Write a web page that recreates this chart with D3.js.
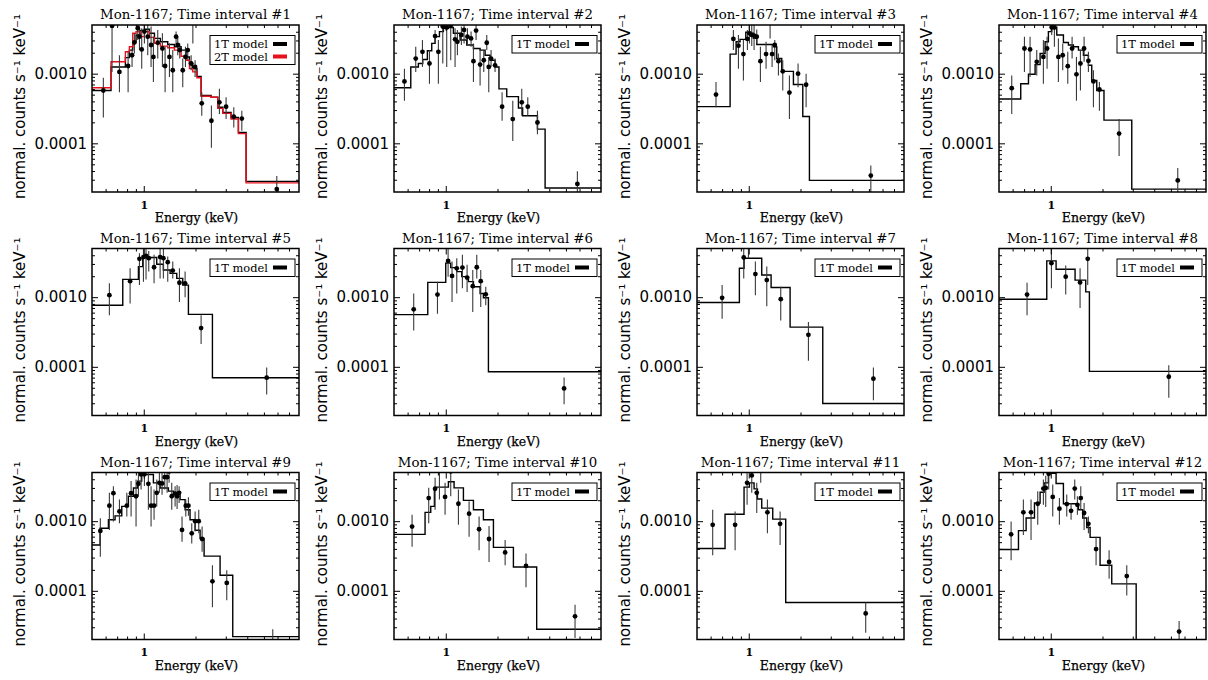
<!DOCTYPE html>
<html><head><meta charset="utf-8">
<script src="https://cdn.jsdelivr.net/npm/d3@7"></script>
<style>body{margin:0;background:#fff}</style>
</head><body><svg id="c" width="1208" height="680"></svg>
<script>
// ---------------- DATA ----------------
const sourceName = "Mon-1167";
const intervalNumbers = [1,2,3,4,5,6,7,8,9,10,11,12];
const xTickValues = [1];
const xTickLabels = ["1"];
const yTickValues = [1e-3, 1e-4];
const yTickLabels = ["0.0010", "0.0001"];
const xMinorTicks = [0.6,0.7,0.8,0.9,2,3,4,5,6,7];
const yMinorTicks = [3e-5,4e-5,5e-5,6e-5,7e-5,8e-5,9e-5,2e-4,3e-4,4e-4,5e-4,6e-4,7e-4,8e-4,9e-4,2e-3,3e-3,4e-3];
const xDomain = [0.5, 8];
const yDomain = [2e-5, 5e-3];
const legendLabels = ["1T model", "2T model"];

// Panel 1
const p1E  = [0.582,0.654,0.722,0.811,0.855,0.882,0.923,0.944,0.973,1.009,1.055,1.103,1.138,1.206,1.284,1.331,1.411,1.475,1.542,1.577,1.620,1.686,1.748,1.803,1.886,1.93,1.989,2.175,2.475,2.755,3.013,3.34,3.72,5.94];
const p1F  = [5.73e-4,4.85e-3,1.06e-3,1.29e-3,1.84e-3,2.81e-3,4.49e-3,3.40e-3,2.23e-3,4.02e-3,3.40e-3,2.58e-3,1.74e-3,2.78e-3,2.30e-3,1.29e-3,1.74e-3,1.12e-3,3.40e-3,2.58e-3,2.18e-3,1.12e-3,1.74e-3,2.18e-3,1.40e-3,5.6e-3,1.25e-3,3.75e-4,2.11e-4,3.88e-4,3.36e-4,2.41e-4,2.27e-4,2.2e-5];
const p1Lo = [2.35e-4,1.06e-3,5.42e-4,5.42e-4,1.25e-3,1.95e-3,3.04e-3,2.18e-3,1.18e-3,2.72e-3,1.84e-3,1.25e-3,7.57e-4,1.65e-3,1.25e-3,5.42e-4,8.94e-4,5.42e-4,2.43e-3,1.84e-3,1.65e-3,6.41e-4,1.25e-3,1.56e-3,1.12e-3,2.72e-3,8.94e-4,2.49e-4,8.65e-5,2.63e-4,2.23e-4,1.69e-4,1.51e-4,1.5e-5];
const p1Hi = [8.75e-4,9e-3,1.84e-3,2.06e-3,2.30e-3,3.80e-3,6e-3,4.75e-3,4.49e-3,6e-3,6e-3,4.75e-3,3.40e-3,4.25e-3,3.80e-3,2.43e-3,2.72e-3,2.18e-3,4.02e-3,3.40e-3,2.72e-3,1.65e-3,2.43e-3,2.72e-3,1.84e-3,9e-3,1.56e-3,5.42e-4,3.48e-4,6.06e-4,4.59e-4,3.29e-4,2.94e-4,3.4e-5];
const p1Edges = [0.5,0.645,0.782,0.825,0.863,0.902,0.956,1.009,1.079,1.154,1.250,1.379,1.508,1.649,1.763,1.844,1.928,2.04,2.156,2.465,2.695,2.882,3.22,3.553,3.94,8];
const p1Model = [5.73e-4,1.25e-3,1.70e-3,2.18e-3,2.87e-3,3.60e-3,4.16e-3,4.35e-3,3.80e-3,3.21e-3,2.87e-3,2.63e-3,2.43e-3,2.18e-3,1.74e-3,1.40e-3,1.18e-3,9.15e-4,4.86e-4,4.59e-4,3.29e-4,2.78e-4,2.35e-4,1.43e-4,2.84e-5];
const p1Model2T = [6.27e-4,1.48e-3,2.06e-3,2.43e-3,3.80e-3,4.02e-3,3.40e-3,4.02e-3,3.32e-3,2.72e-3,2.49e-3,2.36e-3,2.18e-3,1.78e-3,1.56e-3,1.18e-3,1.06e-3,8.75e-4,4.74e-4,4.59e-4,3.18e-4,2.69e-4,2.23e-4,1.38e-4,2.70e-5];

// Panel 2
const p2E  = [0.575,0.669,0.732,0.804,0.867,0.906,0.961,1.013,1.069,1.133,1.169,1.233,1.278,1.337,1.404,1.449,1.501,1.584,1.664,1.732,1.779,1.835,1.936,2.127,2.454,2.768,3.0,3.415,5.83];
const p2F  = [7.74e-4,1.65e-3,2.06e-3,1.40e-3,3.47e-3,2.06e-3,4.75e-3,4.6e-3,4.9e-3,3.11e-3,2.87e-3,3.60e-3,4.25e-3,3.40e-3,3.21e-3,1.51e-3,4.16e-3,1.35e-3,1.56e-3,2.78e-3,1.25e-3,1.65e-3,1.32e-3,3.36e-4,2.23e-4,3.88e-4,3.36e-4,1.99e-4,2.61e-5];
const p2Lo = [4.10e-4,1.06e-3,1.25e-3,7.16e-4,2.72e-3,7.16e-4,1.40e-3,1.25e-3,1.56e-3,1.25e-3,1.84e-3,2.58e-3,2.72e-3,2.58e-3,2.43e-3,7.57e-4,3.04e-3,6.77e-4,1.06e-3,2.18e-3,5.42e-4,1.25e-3,1.06e-3,2.11e-4,1.08e-4,2.49e-4,2.49e-4,1.35e-4,1.83e-5];
const p2Hi = [1.18e-3,2.43e-3,3.04e-3,2.18e-3,4.25e-3,3.04e-3,7e-3,7e-3,7e-3,4.49e-3,4.25e-3,4.75e-3,6e-3,4.49e-3,4.02e-3,2.72e-3,6e-3,2.18e-3,2.18e-3,3.60e-3,1.74e-3,2.18e-3,1.65e-3,5.42e-4,4.10e-4,6.06e-4,4.59e-4,2.94e-4,3.97e-5];
const p2Edges = [0.5,0.626,0.693,0.735,0.782,0.829,0.867,0.919,0.969,1.036,1.108,1.212,1.325,1.449,1.584,1.694,1.811,1.936,2.04,2.264,2.647,2.80,3.415,3.784,8];
const p2Model = [6.27e-4,1.25e-3,1.40e-3,1.60e-3,2.13e-3,2.72e-3,3.40e-3,4.02e-3,4.49e-3,4.6e-3,3.80e-3,3.04e-3,2.58e-3,2.30e-3,2.18e-3,1.84e-3,1.56e-3,1.25e-3,6.06e-4,4.69e-4,3.22e-4,2.49e-4,1.60e-4,2.28e-5];

// Panel 3
const p3E  = [0.645,0.814,0.871,0.931,0.982,1.009,1.041,1.074,1.113,1.169,1.261,1.331,1.367,1.417,1.488,1.577,1.724,1.936,2.156,5.13];
const p3F  = [5.01e-4,3.15e-3,2.52e-3,1.91e-3,3.15e-3,3.80e-3,3.6e-3,3.53e-3,3.40e-3,1.51e-3,1.91e-3,5.6e-3,1.91e-3,2.58e-3,1.51e-3,1.08e-3,5.36e-4,1.0e-3,6.93e-4,3.44e-5];
const p3Lo = [3.29e-4,2.18e-3,1.18e-3,8.0e-4,2.18e-3,2.72e-3,2.5e-3,2.18e-3,2.72e-3,7.57e-4,1.18e-3,3.21e-3,1.25e-3,1.56e-3,9.45e-4,5.73e-4,2.23e-4,6.41e-4,3.29e-4,1.8e-5];
const p3Hi = [7.57e-4,4.25e-3,3.60e-3,3.04e-3,4.25e-3,5.2e-3,5.2e-3,5.2e-3,4.3e-3,2.43e-3,2.87e-3,8e-3,2.58e-3,3.04e-3,1.95e-3,1.56e-3,9.45e-4,1.40e-3,1.0e-3,4.81e-5];
const p3Edges = [0.5,0.779,0.844,0.890,0.961,1.018,1.064,1.113,1.391,1.455,1.556,1.819,2.062,2.254,8];
const p3Model = [3.36e-4,1.91e-3,2.87e-3,3.11e-3,3.93e-3,3.80e-3,3.21e-3,2.63e-3,2.43e-3,1.65e-3,1.08e-3,7.0e-4,2.43e-4,2.94e-5];

// Panel 4
const p4E  = [0.593,0.703,0.758,0.829,0.906,0.952,1.013,1.05,1.108,1.174,1.256,1.331,1.411,1.488,1.563,1.656,1.771,1.919,2.498,5.48];
const p4F  = [6.20e-4,2.30e-3,2.23e-3,1.48e-3,1.74e-3,2.30e-3,4.64e-3,4.6e-3,1.74e-3,1.84e-3,1.28e-3,2.30e-3,9.8e-4,1.40e-3,2.30e-3,1.53e-3,7.74e-4,5.93e-4,1.38e-4,2.93e-5];
const p4Lo = [2.63e-4,1.06e-3,8.94e-4,9.45e-4,7.16e-4,1.18e-3,3.60e-3,2.43e-3,7.57e-4,1.12e-3,7.16e-4,1.65e-3,4.10e-4,5.73e-4,1.48e-3,1.06e-3,3.29e-4,2.94e-4,6.56e-5,1.9e-5];
const p4Hi = [9.45e-4,3.40e-3,3.40e-3,2.18e-3,3.04e-3,3.40e-3,6e-3,6e-3,3.21e-3,2.72e-3,2.06e-3,3.40e-3,1.74e-3,2.18e-3,3.40e-3,2.06e-3,1.12e-3,7.57e-4,2.23e-4,4.44e-5];
const p4Edges = [0.5,0.669,0.742,0.811,0.867,0.927,0.969,1.013,1.084,1.185,1.267,1.355,1.449,1.549,1.656,1.732,1.852,2.04,2.96,8];
const p4Model = [4.34e-4,7.16e-4,9.8e-4,1.35e-3,1.95e-3,2.87e-3,4.02e-3,4.64e-3,3.60e-3,2.81e-3,2.58e-3,2.43e-3,2.18e-3,1.84e-3,1.32e-3,8.0e-4,5.73e-4,2.15e-4,2.2e-5];

// Panel 5
const p5E  = [0.631,0.833,0.944,0.996,1.031,1.069,1.148,1.245,1.301,1.379,1.475,1.613,1.740,2.156,5.19];
const p5F  = [1.07e-3,1.70e-3,3.55e-3,3.76e-3,3.9e-3,3.63e-3,2.69e-3,3.76e-3,3.63e-3,3.18e-3,2.41e-3,1.61e-3,1.58e-3,3.60e-4,6.98e-5];
const p5Lo = [5.48e-4,8.1e-4,1.49e-3,1.67e-3,1.8e-3,2.33e-3,1.58e-3,1.86e-3,1.86e-3,1.67e-3,1.86e-3,8.56e-4,1.0e-3,2.13e-4,4.0e-5];
const p5Hi = [1.58e-3,2.60e-3,4.29e-3,5.5e-3,5.5e-3,4.6e-3,4.06e-3,5e-3,5e-3,3.84e-3,3.25e-3,2.60e-3,2.33e-3,5.48e-4,9.8e-5];
const p5Edges = [0.5,0.755,0.931,0.987,1.190,1.301,1.423,1.556,1.686,1.819,2.509,8];
const p5Model = [7.66e-4,1.80e-3,2.75e-3,3.72e-3,2.97e-3,2.46e-3,2.20e-3,1.86e-3,1.49e-3,5.67e-4,6.98e-5];

// Panel 6
const p6E  = [0.651,0.895,1.032,1.088,1.159,1.250,1.331,1.436,1.515,1.598,1.709,4.88];
const p6F  = [6.7e-4,1.09e-3,3.32e-3,2.02e-3,2.60e-3,2.66e-3,1.91e-3,1.44e-3,2.69e-3,1.70e-3,1.10e-3,4.9e-5];
const p6Lo = [3.33e-4,5.8e-4,1.97e-3,8.56e-4,1.13e-3,1.34e-3,1.19e-3,6.13e-4,1.86e-3,7.24e-4,7.66e-4,2.9e-5];
const p6Hi = [1.13e-3,1.67e-3,5e-3,3.25e-3,3.63e-3,4.06e-3,2.91e-3,2.46e-3,4.06e-3,2.46e-3,1.41e-3,7.0e-5];
const p6Edges = [0.5,0.786,1.0,1.069,1.159,1.239,1.355,1.449,1.584,1.656,1.771,8];
const p6Model = [5.61e-4,1.63e-3,3.08e-3,2.66e-3,2.33e-3,1.97e-3,1.67e-3,1.41e-3,1.13e-3,9.8e-4,8.5e-5];

// Panel 7
const p7E  = [0.700,0.935,0.996,1.093,1.273,1.535,2.224,5.31];
const p7F  = [9.8e-4,3.72e-3,6e-3,2.15e-3,1.76e-3,9.35e-4,2.88e-4,6.76e-5];
const p7Lo = [4.9e-4,1.86e-3,3.63e-3,1.07e-3,7.4e-4,4.64e-4,1.22e-4,3.3e-5];
const p7Hi = [1.49e-3,5e-3,9e-3,3.25e-3,2.75e-3,1.41e-3,4.39e-4,9.8e-5];
const p7Edges = [0.5,0.882,0.939,1.190,1.349,1.740,2.695,8];
const p7Model = [8.37e-4,2.60e-3,3.63e-3,2.08e-3,1.38e-3,3.71e-4,2.97e-5];

// Panel 8
const p8E  = [0.728,1.009,1.222,1.481,1.641,4.86];
const p8F  = [1.09e-3,3.08e-3,1.97e-3,1.63e-3,3.55e-3,7.2e-5];
const p8Lo = [5.48e-4,1.34e-3,1.09e-3,7.0e-4,1.49e-3,3.6e-5];
const p8Hi = [1.61e-3,5e-3,2.85e-3,2.60e-3,5e-3,1.05e-4];
const p8Edges = [0.5,0.948,1.074,1.385,1.598,1.678,8];
const p8Model = [9.35e-4,3.32e-3,2.52e-3,1.76e-3,1.19e-3,8.6e-5];

// Panel 9
const p9E  = [0.559,0.631,0.666,0.722,0.797,0.844,0.902,0.931,0.965,1.009,1.064,1.103,1.148,1.190,1.233,1.278,1.325,1.367,1.404,1.455,1.522,1.563,1.606,1.670,1.756,1.819,1.902,1.99,2.089,2.185,2.509,3.04,5.63];
const p9F  = [7.24e-4,1.67e-3,2.52e-3,1.38e-3,1.67e-3,2.52e-3,2.28e-3,3.44e-3,4.69e-3,4.7e-3,3.44e-3,1.67e-3,1.67e-3,2.55e-3,3.55e-3,3.48e-3,4.29e-3,4.29e-3,5.2e-3,2.28e-3,2.49e-3,2.28e-3,2.55e-3,7.49e-4,1.67e-3,1.67e-3,6.7e-4,1.0e-3,1.0e-3,5.55e-4,1.37e-4,1.30e-4,1.5e-5];
const p9Lo = [3.08e-4,7.49e-4,9.9e-4,9.35e-4,1.17e-3,1.17e-3,8.37e-4,2.28e-3,2.85e-3,3.2e-3,1.46e-3,8.37e-4,1.05e-3,1.63e-3,2.55e-3,2.4e-3,2.85e-3,2.55e-3,3.55e-3,1.46e-3,1.63e-3,1.5e-3,1.82e-3,5.07e-4,1.17e-3,1.2e-3,4.8e-4,7.1e-4,6.7e-4,3.64e-4,5.8e-5,7.3e-5,1.0e-5];
const p9Hi = [1.10e-3,2.55e-3,3.18e-3,2.04e-3,2.55e-3,3.76e-3,3.97e-3,5e-3,7e-3,7e-3,5e-3,3.18e-3,2.85e-3,3.97e-3,5e-3,5e-3,7e-3,7e-3,7e-3,3.55e-3,3.18e-3,3.3e-3,3.18e-3,1.17e-3,2.04e-3,2.2e-3,9.35e-4,1.38e-3,1.46e-3,8.37e-4,2.33e-4,1.97e-4,2.8e-5];
const p9Edges = [0.5,0.557,0.623,0.681,0.745,0.814,0.871,0.919,0.973,1.138,1.245,1.391,1.488,1.627,1.740,1.859,1.99,2.127,2.244,2.78,3.294,8];
const p9Model = [4.54e-4,7.9e-4,1.05e-3,1.19e-3,1.63e-3,2.28e-3,3.0e-3,3.76e-3,4.69e-3,3.55e-3,3.0e-3,2.7e-3,2.41e-3,2.04e-3,1.46e-3,1.05e-3,7.4e-4,5.67e-4,3.15e-4,1.67e-4,2.2e-5];

// Panel 10
const p10E  = [0.637,0.796,0.867,0.919,0.991,1.069,1.185,1.367,1.563,1.786,2.215,2.93,5.65];
const p10F  = [8.37e-4,2.15e-3,2.91e-3,5.5e-3,2.23e-3,5.2e-3,1.78e-3,1.28e-3,7.66e-4,5.55e-4,3.56e-4,2.28e-4,4.3e-5];
const p10Lo = [4.29e-4,9.35e-4,1.46e-3,2.04e-3,1.24e-3,2.28e-3,8.85e-4,6.0e-4,3.84e-4,2.6e-4,2.33e-4,1.13e-4,2.1e-5];
const p10Hi = [1.24e-3,3.01e-3,4.2e-3,9e-3,3.55e-3,9e-3,2.85e-3,1.93e-3,1.17e-3,8.56e-4,5.36e-4,3.43e-4,6.3e-5];
const p10Edges = [0.5,0.758,0.818,0.859,1.036,1.118,1.267,1.449,1.656,1.894,2.475,3.38,8];
const p10Model = [6.47e-4,1.34e-3,1.63e-3,3.08e-3,3.68e-3,3.01e-3,1.99e-3,1.46e-3,1.05e-3,4.2e-4,2.2e-4,2.8e-5];

// Panel 11
const p11E  = [0.617,0.833,0.978,1.041,1.113,1.174,1.284,1.522,4.79];
const p11F  = [8.85e-4,8.85e-4,3.55e-3,4.54e-3,2.55e-3,5.5e-3,1.34e-3,9.15e-4,4.74e-5];
const p11Lo = [3.25e-4,3.84e-4,1.72e-3,2.55e-3,1.31e-3,3.55e-3,6.7e-4,4.54e-4,2.5e-5];
const p11Hi = [1.46e-3,1.38e-3,5e-3,6e-3,3.55e-3,9e-3,2.04e-3,1.38e-3,6.8e-5];
const p11Edges = [0.5,0.728,0.939,1.009,1.074,1.123,1.190,1.379,1.641,8];
const p11Model = [4.06e-4,1.26e-3,3.08e-3,3.55e-3,2.91e-3,2.08e-3,1.54e-3,1.07e-3,6.8e-5];

// Panel 12
const p12E  = [0.588,0.693,0.768,0.840,0.906,0.935,0.973,1.027,1.123,1.239,1.313,1.379,1.429,1.495,1.563,1.656,1.835,2.185,2.768,5.58];
const p12F  = [6.48e-4,1.34e-3,1.34e-3,1.78e-3,2.94e-3,3.0e-3,4.8e-3,2.23e-3,1.51e-3,1.76e-3,1.41e-3,2.94e-3,1.72e-3,2.15e-3,1.31e-3,9.15e-4,3.97e-4,2.6e-4,1.63e-4,2.6e-5];
const p12Lo = [2.75e-4,6.34e-4,5.36e-4,8.85e-4,1.72e-3,1.6e-3,2.85e-3,1.17e-3,8.85e-4,1.17e-3,1.05e-3,2.04e-3,1.24e-3,1.46e-3,7.49e-4,6.7e-4,2.33e-4,1.49e-4,8.6e-5,1.7e-5];
const p12Hi = [9.9e-4,2.04e-3,2.04e-3,2.69e-3,3.97e-3,4.5e-3,7e-3,3.37e-3,2.15e-3,2.41e-3,1.82e-3,3.97e-3,2.28e-3,3.18e-3,1.82e-3,1.17e-3,6.0e-4,3.84e-4,2.33e-4,3.7e-5];
const p12Edges = [0.5,0.649,0.719,0.804,0.867,0.915,0.969,1.074,1.185,1.449,1.535,1.620,1.694,1.936,2.264,3.14,8];
const p12Model = [3.93e-4,7.32e-4,1.11e-3,1.82e-3,2.60e-3,3.55e-3,4.86e-3,3.47e-3,1.78e-3,1.46e-3,1.11e-3,8.1e-4,5.86e-4,2.33e-4,1.26e-4,5e-6];

// ---------------- LAYOUT ----------------
const colLeft = [92, 394, 697, 999];
const rowTop = [25, 248.5, 472.5];
const PW = 207, PH = 167;

const panels = [
  {E:p1E,F:p1F,lo:p1Lo,hi:p1Hi,edges:p1Edges,model:p1Model,model2:p1Model2T},
  {E:p2E,F:p2F,lo:p2Lo,hi:p2Hi,edges:p2Edges,model:p2Model},
  {E:p3E,F:p3F,lo:p3Lo,hi:p3Hi,edges:p3Edges,model:p3Model},
  {E:p4E,F:p4F,lo:p4Lo,hi:p4Hi,edges:p4Edges,model:p4Model},
  {E:p5E,F:p5F,lo:p5Lo,hi:p5Hi,edges:p5Edges,model:p5Model},
  {E:p6E,F:p6F,lo:p6Lo,hi:p6Hi,edges:p6Edges,model:p6Model},
  {E:p7E,F:p7F,lo:p7Lo,hi:p7Hi,edges:p7Edges,model:p7Model},
  {E:p8E,F:p8F,lo:p8Lo,hi:p8Hi,edges:p8Edges,model:p8Model},
  {E:p9E,F:p9F,lo:p9Lo,hi:p9Hi,edges:p9Edges,model:p9Model},
  {E:p10E,F:p10F,lo:p10Lo,hi:p10Hi,edges:p10Edges,model:p10Model},
  {E:p11E,F:p11F,lo:p11Lo,hi:p11Hi,edges:p11Edges,model:p11Model},
  {E:p12E,F:p12F,lo:p12Lo,hi:p12Hi,edges:p12Edges,model:p12Model}
];

const svg = d3.select("#c");
svg.append("rect").attr("width",1208).attr("height",680).attr("fill","#fff");
const defs = svg.append("defs");
const serif = "'DejaVu Serif', serif";
const sans = "'DejaVu Sans', sans-serif";

panels.forEach((p, i) => {
  const L = colLeft[i % 4], T = rowTop[Math.floor(i / 4)];
  const x = d3.scaleLog().domain(xDomain).range([L, L + PW]);
  const y = d3.scaleLog().domain(yDomain).range([T + PH, T]);
  const g = svg.append("g");
  const cid = "clip" + i;
  defs.append("clipPath").attr("id", cid).append("rect")
    .attr("x", L).attr("y", T).attr("width", PW).attr("height", PH);
  const plot = g.append("g").attr("clip-path", `url(#${cid})`);

  const stepLine = d3.line().x(d => x(d[0])).y(d => y(d[1])).curve(d3.curveStepAfter);
  const stepPts = (edges, vals) => vals.map((v, k) => [edges[k], v]).concat([[edges[edges.length - 1], vals[vals.length - 1]]]);

  plot.append("path").attr("d", stepLine(stepPts(p.edges, p.model)))
    .attr("fill", "none").attr("stroke", "#000").attr("stroke-width", 1.4);
  if (p.model2) {
    plot.append("path").attr("d", stepLine(stepPts(p.edges, p.model2)))
      .attr("fill", "none").attr("stroke", "#e8101a").attr("stroke-width", 1.4);
  }
  const pts = p.E.map((e, k) => ({e, f: p.F[k], lo: p.lo[k], hi: p.hi[k]}));
  plot.selectAll("line.err").data(pts).join("line")
    .attr("x1", d => x(d.e)).attr("x2", d => x(d.e))
    .attr("y1", d => y(d.lo)).attr("y2", d => y(d.hi))
    .attr("stroke", "#3a3a3a").attr("stroke-width", 1.1);
  plot.selectAll("circle").data(pts).join("circle")
    .attr("cx", d => x(d.e)).attr("cy", d => y(d.f)).attr("r", 2.4).attr("fill", "#000");

  // axes
  const styleAxis = (sel) => { sel.select(".domain").remove(); sel.selectAll("line").attr("stroke", "#000").attr("stroke-width", 1); };
  g.append("g").attr("transform", `translate(${L},0)`)
    .call(d3.axisLeft(y).tickValues(yMinorTicks).tickSize(-3).tickFormat(() => "")).call(styleAxis);
  g.append("g").attr("transform", `translate(${L + PW},0)`)
    .call(d3.axisRight(y).tickValues(yMinorTicks).tickSize(-3).tickFormat(() => "")).call(styleAxis);
  g.append("g").attr("transform", `translate(${L + PW},0)`)
    .call(d3.axisRight(y).tickValues(yTickValues).tickSize(-6).tickFormat(() => "")).call(styleAxis);
  const yl = g.append("g").attr("transform", `translate(${L},0)`)
    .call(d3.axisLeft(y).tickValues(yTickValues).tickSize(-6).tickPadding(5)
      .tickFormat((d, k) => yTickLabels[k])).call(styleAxis);
  yl.selectAll("text").attr("font-family", sans).attr("font-size", 15).attr("fill", "#000");

  g.append("g").attr("transform", `translate(0,${T + PH})`)
    .call(d3.axisBottom(x).tickValues(xMinorTicks).tickSize(-3).tickFormat(() => "")).call(styleAxis);
  g.append("g").attr("transform", `translate(0,${T})`)
    .call(d3.axisTop(x).tickValues(xMinorTicks).tickSize(-3).tickFormat(() => "")).call(styleAxis);
  g.append("g").attr("transform", `translate(0,${T})`)
    .call(d3.axisTop(x).tickValues(xTickValues).tickSize(-6).tickFormat(() => "")).call(styleAxis);
  const xl = g.append("g").attr("transform", `translate(0,${T + PH})`)
    .call(d3.axisBottom(x).tickValues(xTickValues).tickSize(-6).tickPadding(9)
      .tickFormat((d, k) => xTickLabels[k])).call(styleAxis);
  xl.selectAll("text").attr("font-family", serif).attr("font-size", 11).attr("font-weight", "bold").attr("fill", "#000");

  // frame
  g.append("rect").attr("x", L).attr("y", T).attr("width", PW).attr("height", PH)
    .attr("fill", "none").attr("stroke", "#000").attr("stroke-width", 1.5);

  // title
  g.append("text").attr("x", L + PW / 2).attr("y", T - 6).attr("text-anchor", "middle")
    .attr("font-family", serif).attr("font-size", 13.3).attr("fill", "#000")
    .text(`${sourceName}; Time interval #${intervalNumbers[i]}`);
  // x label
  g.append("text").attr("x", L + PW / 2 + 1).attr("y", T + 197).attr("text-anchor", "middle")
    .attr("font-family", serif).attr("font-size", 12.5).attr("fill", "#000")
    .attr("stroke", "#000").attr("stroke-width", 0.25)
    .text("Energy (keV)");
  // y label
  g.append("text").attr("transform", `translate(${L - 67},${T + PH / 2 - 2}) rotate(-90)`)
    .attr("text-anchor", "middle").attr("font-family", sans).attr("font-size", 15).attr("fill", "#000")
    .text("normal. counts s⁻¹ keV⁻¹");

  // legend
  const nRows = p.model2 ? 2 : 1;
  const rowGap = 12.5;
  const lg = g.append("g");
  lg.append("rect").attr("x", L + 118).attr("y", T + 10.5).attr("width", 85).attr("height", nRows === 2 ? 29 : 17.5)
    .attr("fill", "#fff").attr("stroke", "#000").attr("stroke-width", 1);
  for (let r = 0; r < nRows; r++) {
    lg.append("text").attr("x", L + 122).attr("y", T + 23 + r * rowGap)
      .attr("font-family", serif).attr("font-size", 10.8).attr("fill", "#000")
      .attr("textLength", 54).attr("lengthAdjust", "spacingAndGlyphs")
      .text(legendLabels[r]);
    lg.append("line").attr("x1", L + 181).attr("x2", L + 195)
      .attr("y1", T + 19 + r * rowGap).attr("y2", T + 19 + r * rowGap)
      .attr("stroke", r === 0 ? "#000" : "#e8101a").attr("stroke-width", 4);
  }
});
</script></body></html>
